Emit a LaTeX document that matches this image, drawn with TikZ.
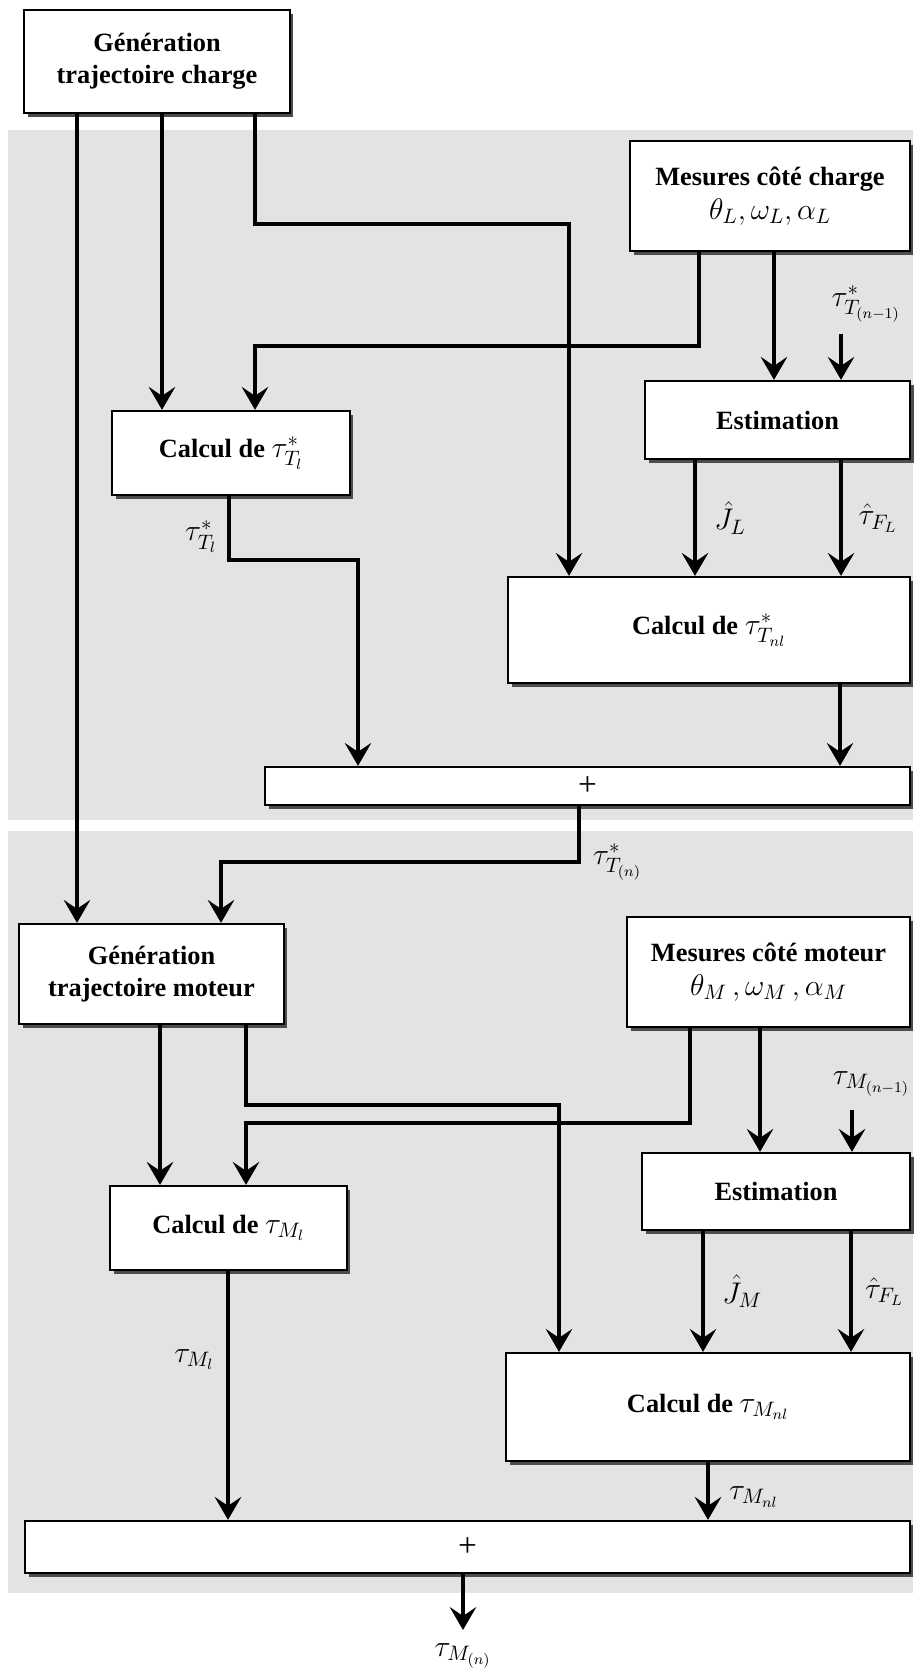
\documentclass[tikz,border=0pt]{standalone}
\usepackage{fix-cm}
\usepackage{amsmath}
\usepackage{fontspec}
\setmainfont{Liberation Serif}
\usetikzlibrary{arrows.meta,shadows}
\tikzset{>={Stealth[length=13pt,width=15pt,inset=5pt]}}

\begin{document}
\begin{tikzpicture}[x=0.02cm, y=-0.02cm,
    bloc/.style={draw, line width=1.3pt, fill=white, inner sep=2pt, align=center,
      font=\fontsize{15}{18}\selectfont\bfseries,
      drop shadow={shadow xshift=2pt, shadow yshift=-2pt, fill=black!70, opacity=1}},
    somme/.style={bloc, font=\fontsize{19}{20}\selectfont},
    flow/.style={->, line width=2pt},
    lbl/.style={font=\fontsize{17}{20}\selectfont, inner sep=1pt}]
  \useasboundingbox (0,0) rectangle (913,1676);

  % Fonds gris
  \fill[black!11] (8,130) rectangle (913,820);
  \fill[black!11] (8,831) rectangle (913,1593);

  % Blocs, partie charge
  \node[bloc, minimum width=5.32cm, minimum height=2.06cm] (gtc) at (157,61.5)
       {G\'en\'eration\\trajectoire charge};
  \node[bloc, minimum width=5.6cm, minimum height=2.2cm] (mc) at (770,196)
       {Mesures c\^ot\'e charge\\[1pt] \fontsize{17}{20}\selectfont $\theta_L,\omega_L,\alpha_L$};
  \node[bloc, minimum width=5.3cm, minimum height=1.56cm] (estc) at (777.5,420) {Estimation};
  \node[bloc, minimum width=4.76cm, minimum height=1.68cm] (cl) at (231,453)
       {Calcul de {\fontsize{17}{20}\selectfont$\tau^{*}_{T_l}$}};
  \node[bloc, minimum width=8.04cm, minimum height=2.12cm] (cnl) at (709,630)
       {Calcul de {\fontsize{17}{20}\selectfont$\tau^{*}_{T_{nl}}$}};
  \node[somme, minimum width=12.9cm, minimum height=0.76cm] (sum1) at (587.5,786) {+};

  % Blocs, partie moteur
  \node[bloc, minimum width=5.3cm, minimum height=2cm] (gtm) at (151.5,974)
       {G\'en\'eration\\trajectoire moteur};
  \node[bloc, minimum width=5.66cm, minimum height=2.2cm] (mm) at (768.5,972)
       {Mesures c\^ot\'e moteur\\[1pt] \fontsize{17}{20}\selectfont $\theta_M\,,\omega_M\,,\alpha_M$};
  \node[bloc, minimum width=5.36cm, minimum height=1.54cm] (estm) at (776,1191.5) {Estimation};
  \node[bloc, minimum width=4.74cm, minimum height=1.68cm] (cm1) at (228.5,1228)
       {Calcul de {\fontsize{17}{20}\selectfont$\tau_{M_l}$}};
  \node[bloc, minimum width=8.08cm, minimum height=2.16cm] (cmnl) at (708,1407)
       {Calcul de {\fontsize{17}{20}\selectfont$\tau_{M_{nl}}$}};
  \node[somme, minimum width=17.7cm, minimum height=1.04cm] (sum2) at (467.5,1547) {+};

  % Liaisons, partie charge
  \draw[flow] (gtc.south -| 77,0) -- (gtm.north -| 77,0);
  \draw[flow] (gtc.south -| 162,0) -- (cl.north -| 162,0);
  \draw[flow] (gtc.south -| 255,0) -- (255,224) -| (cnl.north -| 569,0);
  \draw[flow] (mc.south -| 699,0) -- (699,346) -| (cl.north -| 255,0);
  \draw[flow] (mc.south -| 774,0) -- (estc.north -| 774,0);
  \coordinate (tprevc) at (841,334);
  \node[lbl] (ltprevc) at (866,304) {$\tau^{*}_{T_{(n-1)}}$};
  \draw[flow] (tprevc) -- (estc.north -| tprevc);
  \draw[flow] (estc.south -| 695,0) -- node[lbl, right=9pt] {$\hat{J}_L$} (cnl.north -| 695,0);
  \draw[flow] (estc.south -| 841,0) -- node[lbl, right=8pt] {$\hat{\tau}_{F_L}$} (cnl.north -| 841,0);
  \draw[flow] (cl.south -| 229,0) -- node[lbl, left=5pt, pos=0.63] {$\tau^{*}_{T_l}$} (229,560)
       -| (sum1.north -| 358,0);
  \draw[flow] (cnl.south -| 840,0) -- (sum1.north -| 840,0);
  \draw[flow] (sum1.south -| 579,0) -- (579,862) node[lbl, right=6pt] {$\tau^{*}_{T_{(n)}}$}
       -| (gtm.north -| 221,0);

  % Liaisons, partie moteur
  \draw[flow] (gtm.south -| 160,0) -- (cm1.north -| 160,0);
  \draw[flow] (gtm.south -| 246,0) -- (246,1105) -| (cmnl.north -| 559,0);
  \draw[flow] (mm.south -| 690,0) -- (690,1123) -| (cm1.north -| 246,0);
  \draw[flow] (mm.south -| 760,0) -- (estm.north -| 760,0);
  \coordinate (tprevm) at (852,1110);
  \node[lbl, anchor=east] (ltprevm) at (912,1084) {$\tau_{M_{(n-1)}}$};
  \draw[flow] (tprevm) -- (estm.north -| tprevm);
  \draw[flow] (estm.south -| 703,0) -- node[lbl, right=9pt] {$\hat{J}_M$} (cmnl.north -| 703,0);
  \draw[flow] (estm.south -| 851,0) -- node[lbl, right=6pt] {$\hat{\tau}_{F_L}$} (cmnl.north -| 851,0);
  \draw[flow] (cm1.south -| 228,0) -- node[lbl, left=6pt, pos=0.355] {$\tau_{M_l}$} (sum2.north -| 228,0);
  \draw[flow] (cmnl.south -| 708,0) -- node[lbl, right=10pt, pos=0.6] {$\tau_{M_{nl}}$} (sum2.north -| 708,0);
  \coordinate (tout) at (463,1630);
  \draw[flow] (sum2.south -| tout) -- (tout);
  \node[lbl] (ltout) at (463,1656) {$\tau_{M_{(n)}}$};
\end{tikzpicture}
\end{document}
